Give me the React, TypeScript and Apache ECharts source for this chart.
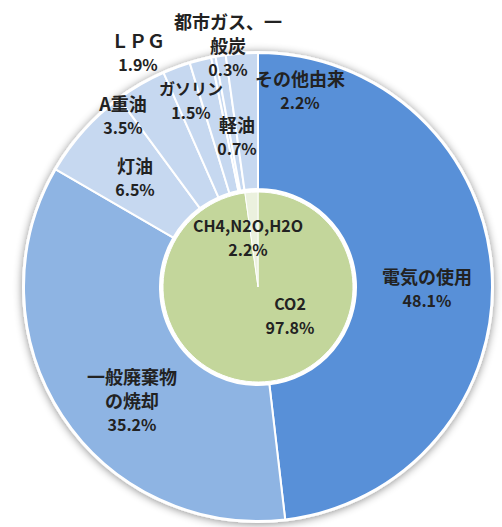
import React, { useEffect, useRef } from "react";
import * as echarts from "echarts";

// Outer ring: emission sources (clockwise from 12 o'clock)
const sourceNames = [
  "電気の使用",
  "一般廃棄物\nの焼却",
  "灯油",
  "A重油",
  "ＬＰＧ",
  "ガソリン",
  "都市ガス、一\n般炭",
  "軽油",
  "その他由来",
];
const sourceValues = [48.1, 35.2, 6.5, 3.5, 1.9, 1.5, 0.3, 0.7, 2.2];
const sourceColors = [
  "#5890D8",
  "#8EB4E3",
  "#C6D8F0",
  "#C6D8F0",
  "#C6D8F0",
  "#C6D8F0",
  "#C6D8F0",
  "#C6D8F0",
  "#C6D8F0",
];
// label centres for the outer ring (pixels)
const sourceLabelPos: [number, number][] = [
  [427, 288],
  [132, 400],
  [135, 177],
  [123, 115],
  [138, 52],
  [191, 100],
  [228, 45],
  [237, 136],
  [300, 90],
];
// names drawn with the narrower (smaller) type, as in the reference
const narrowNames = ["ガソリン"];

// Inner pie: gas types
const gasNames = ["CO2", "CH4,N2O,H2O"];
const gasValues = [97.8, 2.2];
const gasColors = ["#C3D69B", "#EBF1DE"];
const gasLabelPos: [number, number][] = [
  [290, 315],
  [248, 237],
];

const CENTER: [number, number] = [258, 287];
const OUTER_R = 234;
const INNER_R = 96;

const FONT = '"Noto Sans CJK JP", "Noto Sans", sans-serif';

function richStyle(size: number) {
  return {
    fontFamily: FONT,
    fontWeight: "bold",
    fontSize: size,
    lineHeight: 24,
    color: "#222222",
    align: "center",
  };
}

function makeLabel(nameSize: number) {
  return {
    show: true,
    position: "inside" as const,
    formatter: (p: any) => {
      const tag = narrowNames.includes(p.name) ? "s" : "n";
      const lines = String(p.name)
        .split("\n")
        .map((l) => `{${tag}|${l}}`);
      lines.push(`{v|${Number(p.value).toFixed(1)}%}`);
      return lines.join("\n");
    },
    color: "#222222",
    fontFamily: FONT,
    fontWeight: "bold" as const,
    align: "center" as const,
    rich: {
      n: richStyle(nameSize),
      s: richStyle(16),
      v: richStyle(16),
    },
  };
}

export default function App() {
  const ref = useRef<HTMLDivElement>(null);
  useEffect(() => {
    if (!ref.current) return;
    const chart = echarts.init(ref.current, null, { renderer: "svg" });
    chart.setOption({
      animation: false,
      backgroundColor: "#ffffff",
      series: [
        {
          // backing disc: white rim + soft shadow
          type: "pie",
          silent: true,
          center: CENTER,
          radius: [0, OUTER_R + 2],
          label: { show: false },
          labelLine: { show: false },
          itemStyle: {
            color: "#ffffff",
            shadowBlur: 8,
            shadowColor: "rgba(0,0,0,0.45)",
            shadowOffsetX: 0,
            shadowOffsetY: 1,
          },
          data: [{ value: 1, name: "" }],
          z: 1,
        },
        {
          type: "pie",
          center: CENTER,
          radius: [INNER_R + 2, OUTER_R],
          startAngle: 90,
          clockwise: true,
          avoidLabelOverlap: false,
          itemStyle: { borderColor: "#ffffff", borderWidth: 2 },
          label: makeLabel(18),
          labelLine: { show: false },
          labelLayout: (params: any) => {
            const pos = sourceLabelPos[params.dataIndex];
            return { x: pos[0], y: pos[1], align: "center", verticalAlign: "middle" };
          },
          data: sourceNames.map((n, i) => ({
            name: n,
            value: sourceValues[i],
            itemStyle: { color: sourceColors[i] },
          })),
          z: 2,
        },
        {
          type: "pie",
          center: CENTER,
          radius: [0, INNER_R - 1],
          startAngle: 90,
          clockwise: true,
          avoidLabelOverlap: false,
          itemStyle: { borderColor: "#ffffff", borderWidth: 1 },
          label: makeLabel(16),
          labelLine: { show: false },
          labelLayout: (params: any) => {
            const pos = gasLabelPos[params.dataIndex];
            return { x: pos[0], y: pos[1], align: "center", verticalAlign: "middle" };
          },
          data: gasNames.map((n, i) => ({
            name: n,
            value: gasValues[i],
            itemStyle: { color: gasColors[i] },
          })),
          z: 3,
        },
      ],
    });
    return () => chart.dispose();
  }, []);
  return (
    <div
      ref={ref}
      style={{ position: "fixed", left: 0, top: 0, width: 502, height: 527 }}
    />
  );
}
